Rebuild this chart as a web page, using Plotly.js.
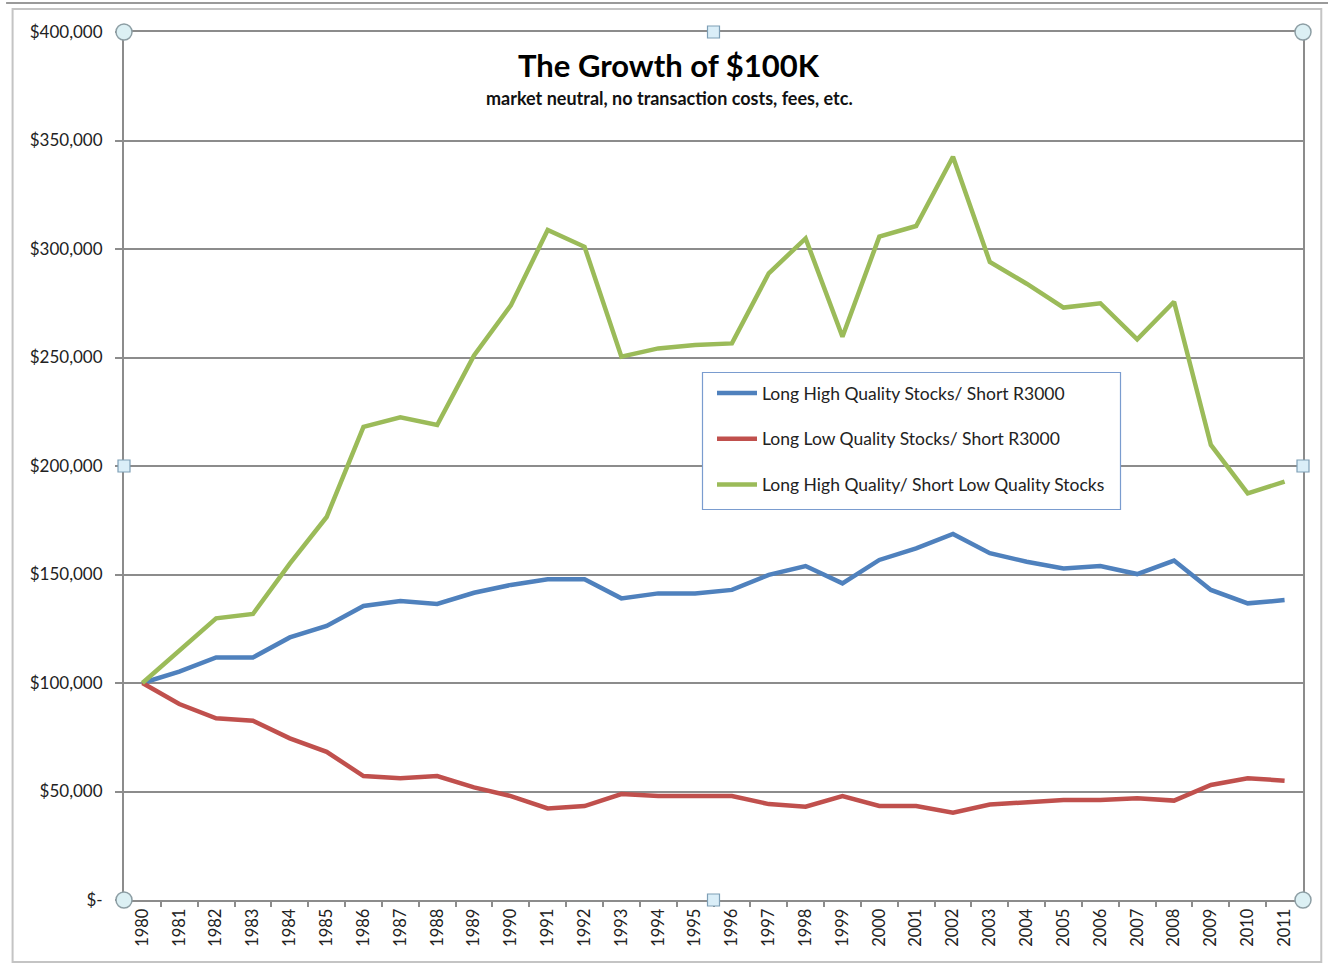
<!DOCTYPE html>
<html>
<head>
<meta charset="utf-8">
<script src="https://cdn.plot.ly/plotly-3.0.1.min.js"></script>
<style>
html,body{margin:0;padding:0;background:#fff;}
#chart{width:1328px;height:965px;}
</style>
</head>
<body>
<div id="chart"></div>
<script>
const years = ["1980","1981","1982","1983","1984","1985","1986","1987","1988","1989","1990","1991","1992","1993","1994","1995","1996","1997","1998","1999","2000","2001","2002","2003","2004","2005","2006","2007","2008","2009","2010","2011"];

const longHighShortR3000 = [100000,105200,111800,111800,121000,126300,135500,137800,136400,141600,145200,147800,147800,139000,141300,141300,142900,149800,153900,145900,156700,162000,168700,159800,155900,152800,153900,150200,156400,142900,136700,138200];

const longLowShortR3000 = [100000,90300,83700,82600,74500,68300,57100,56100,57100,51900,47900,42200,43300,48800,47900,47900,47900,44200,43000,47900,43300,43300,40200,44000,45300,46100,46100,46900,45800,53000,56100,55000];

const longHighShortLow = [100000,115200,129800,131800,155000,176500,218000,222400,218900,251000,274000,308800,301000,250400,254200,255800,256500,288800,304900,259600,305700,310600,342500,294000,284000,273000,275000,258400,275700,209700,187400,192800];

const seriesNames = ["Long High Quality Stocks/ Short R3000","Long Low Quality Stocks/ Short R3000","Long High Quality/ Short Low Quality Stocks"];
const seriesColors = ["#4F81BD","#C0504D","#9BBB59"];

const yTickVals = [0,50000,100000,150000,200000,250000,300000,350000,400000];
const yTickText = ["$-","$50,000","$100,000","$150,000","$200,000","$250,000","$300,000","$350,000","$400,000"];

const titleText = "The Growth of $100K";
const subtitleText = "market neutral, no transaction costs, fees, etc.";

const FONT = "Lato, 'Open Sans', sans-serif";
const allSeries = [longHighShortR3000, longLowShortR3000, longHighShortLow];

const traces = allSeries.map((vals, i) => ({
  type: "scatter",
  mode: "lines",
  x: years,
  y: vals,
  name: seriesNames[i],
  legendgroup: "g" + i,
  line: {color: seriesColors[i], width: 4.5},
  hoverinfo: "x+y+name"
}));

function circleHandle(px, py) {
  return {type:"circle", xref:"paper", yref:"paper", xsizemode:"pixel", ysizemode:"pixel",
    xanchor:px, yanchor:py, x0:-8, x1:8, y0:-8, y1:8,
    fillcolor:"#dcf0f4", line:{color:"#8d9ea4", width:1.5}};
}
function squareHandle(px, py) {
  return {type:"rect", xref:"paper", yref:"paper", xsizemode:"pixel", ysizemode:"pixel",
    xanchor:px, yanchor:py, x0:-6, x1:6, y0:-6, y1:6,
    fillcolor:"#daeef8", line:{color:"#7e9fb6", width:1.2}};
}

// plot area in px: x 124..1303, y 32..900
const px2x = p => (p - 124) / 1179;
const py2y = p => (900 - p) / 868;

const shapes = [
  {type:"line", xref:"paper", yref:"paper", x0:-0.100, x1:1.03, y0:1.0335, y1:1.0335, line:{color:"#9a9a9a", width:2}, layer:"below"},
  {type:"rect", xref:"paper", yref:"paper", x0:-0.0945, x1:1.0155, y0:1.0265, y1:-0.0715, line:{color:"#c4c4c4", width:2}, layer:"below"},
  // legend box
  {type:"rect", xref:"paper", yref:"paper", x0:px2x(702.5), x1:px2x(1120.5), y0:py2y(372.5), y1:py2y(509.5),
   fillcolor:"#ffffff", line:{color:"#7a9ccf", width:1.2}, layer:"above"},
  circleHandle(0,1), circleHandle(1,1), circleHandle(0,0), circleHandle(1,0),
  squareHandle(0.5,1), squareHandle(0,0.5), squareHandle(1,0.5), squareHandle(0.5,0)
];

const layout = {
  width: 1328,
  height: 965,
  margin: {l:124, r:25, t:32, b:65, pad:0},
  paper_bgcolor: "#ffffff",
  plot_bgcolor: "#ffffff",
  font: {family: FONT, color: "#222222", size: 14},
  showlegend: true,
  legend: {
    x: px2x(712), y: py2y(375), xanchor: "left", yanchor: "top",
    bgcolor: "rgba(0,0,0,0)", borderwidth: 0,
    font: {family: FONT, size: 17.5, color: "#222"},
    itemwidth: 40, traceorder: "grouped", tracegroupgap: 20,
    itemclick: false, itemdoubleclick: false
  },
  xaxis: {
    type: "category",
    range: [-0.5, 31.5],
    tickson: "boundaries",
    ticks: "outside", ticklen: 5, tickwidth: 1.5, tickcolor: "#8c8c8c",
    tickangle: -90,
    tickfont: {family: FONT, size: 16.5, color: "#222"},
    showline: true, linecolor: "#8c8c8c", linewidth: 2, mirror: true,
    showgrid: false, zeroline: false, fixedrange: true
  },
  yaxis: {
    range: [0, 400000],
    tickvals: yTickVals, ticktext: yTickText,
    ticks: "outside", ticklen: 7, tickwidth: 1.5, tickcolor: "#8c8c8c",
    tickfont: {family: FONT, size: 17, color: "#222"},
    ticklabelstandoff: 9,
    showline: true, linecolor: "#8c8c8c", linewidth: 2, mirror: true,
    showgrid: true, gridcolor: "#8c8c8c", gridwidth: 1.6,
    zeroline: false, fixedrange: true
  },
  shapes: shapes,
  annotations: [
    {text: "<b>" + titleText + "</b>", xref:"paper", yref:"paper", x:0.4625, y:0.962, xanchor:"center", yanchor:"middle",
     showarrow:false, font:{family: FONT, size: 31, color: "#000"}},
    {text: "<b>" + subtitleText + "</b>", xref:"paper", yref:"paper", x:0.4625, y:0.924, xanchor:"center", yanchor:"middle",
     showarrow:false, font:{family: FONT, size: 18, color: "#111"}}
  ]
};

Plotly.newPlot("chart", traces, layout, {displayModeBar: false, responsive: false});
</script>
</body>
</html>
